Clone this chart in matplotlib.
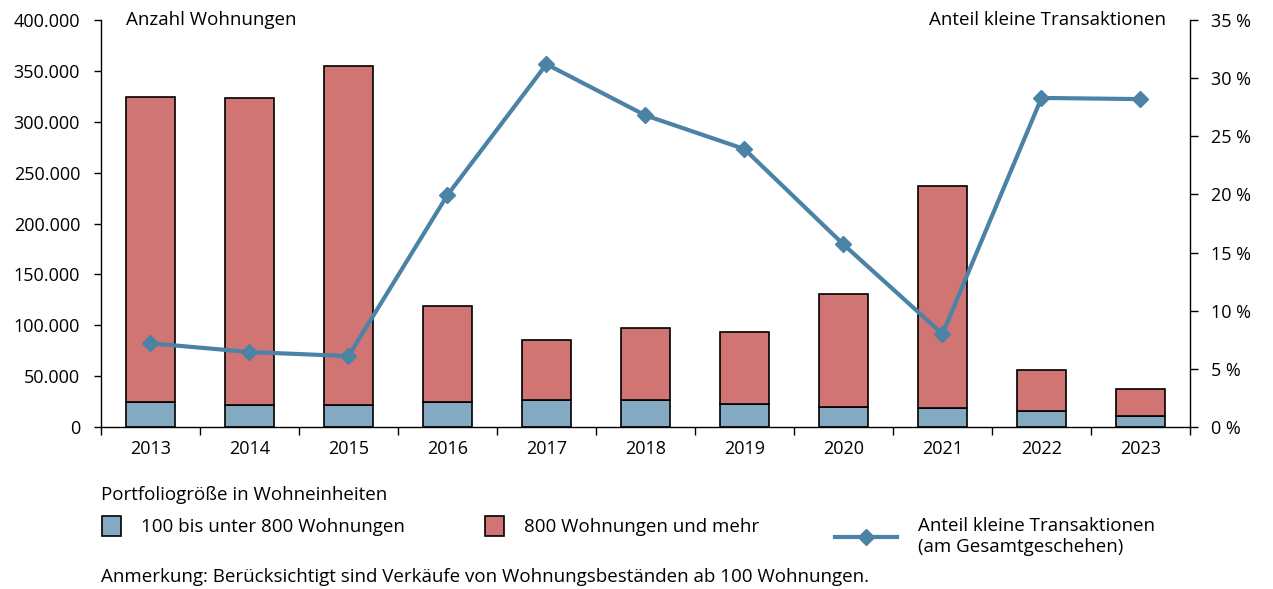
import matplotlib.pyplot as plt
from matplotlib.patches import Patch
from matplotlib.lines import Line2D
from matplotlib.ticker import FuncFormatter
import numpy as np

plt.rcParams['font.family'] = ['Open Sans', 'DejaVu Sans']
plt.rcParams['font.size'] = 13.5

years = ['2013', '2014', '2015', '2016', '2017', '2018', '2019', '2020', '2021', '2022', '2023']
small = [24600, 21600, 21600, 24600, 26800, 26800, 22900, 20000, 19000, 15700, 10800]
total = [324800, 323300, 354800, 118900, 85200, 97300, 93400, 131000, 236500, 55700, 37000]
large = [t - s for t, s in zip(total, small)]
share = [7.2, 6.45, 6.1, 19.95, 31.2, 26.8, 23.9, 15.7, 8.0, 28.3, 28.2]

blue = '#84a9c2'
red = '#d07574'
line_col = '#4a83a5'

fig = plt.figure(figsize=(12.73, 5.89), dpi=100)
ax = fig.add_axes([0.0793, 0.275, 0.8555, 0.691])
x = np.arange(len(years))

ax.bar(x, small, width=0.5, color=blue, edgecolor='black', linewidth=1.2, zorder=2)
ax.bar(x, large, bottom=small, width=0.5, color=red, edgecolor='black', linewidth=1.2, zorder=2)

ax.set_xlim(-0.5, len(years) - 0.5)
ax.set_ylim(0, 400000)
ax.set_yticks(np.arange(0, 400001, 50000))
ax.yaxis.set_major_formatter(FuncFormatter(lambda v, p: f'{int(v):,}'.replace(',', '.')))
ax.set_xticks(np.arange(-0.5, len(years), 1))
ax.set_xticklabels([])
ax.set_xticks(x, minor=True)
ax.set_xticklabels(years, minor=True)
ax.tick_params(axis='x', which='major', direction='out', length=6, width=1)
ax.tick_params(axis='x', which='minor', length=0, pad=9, labelsize=13)
ax.tick_params(axis='y', direction='out', length=5, width=1, pad=10, labelsize=13)
for s in ['top', 'right']:
    ax.spines[s].set_visible(False)
ax.spines['left'].set_linewidth(1)
ax.spines['bottom'].set_linewidth(1)

ax2 = ax.twinx()
ax2.plot(x, share, color=line_col, lw=3, marker='D', markersize=8.5, zorder=3)
ax2.set_ylim(0, 35)
ax2.set_yticks(np.arange(0, 36, 5))
ax2.yaxis.set_major_formatter(FuncFormatter(lambda v, p: f'{int(v)} %'))
ax2.tick_params(axis='y', direction='out', length=6, width=1, pad=9, labelsize=13)
for s in ['top', 'left', 'bottom']:
    ax2.spines[s].set_visible(False)
ax2.spines['right'].set_linewidth(1)

fig.text(126 / 1273, 1 - 20 / 589, 'Anzahl Wohnungen', ha='left', va='center')
fig.text(1166 / 1273, 1 - 20 / 589, 'Anteil kleine Transaktionen', ha='right', va='center')

fig.text(101 / 1273, 1 - 495 / 589, 'Portfoliogröße in Wohneinheiten', ha='left', va='center')
fig.text(101 / 1273, 1 - 577 / 589, 'Anmerkung: Berücksichtigt sind Verkäufe von Wohnungsbeständen ab 100 Wohnungen.',
         ha='left', va='center')

leg_kw = dict(frameon=False, loc='upper left', borderaxespad=0, borderpad=0, handletextpad=1.1)
l1 = fig.legend([Patch(facecolor=blue, edgecolor='black', linewidth=1.2)], ['100 bis unter 800 Wohnungen'],
                bbox_to_anchor=(102 / 1273, 1 - 516 / 589), handlelength=1.0, handleheight=1.3, **leg_kw)
l2 = fig.legend([Patch(facecolor=red, edgecolor='black', linewidth=1.2)], ['800 Wohnungen und mehr'],
                bbox_to_anchor=(485 / 1273, 1 - 516 / 589), handlelength=1.0, handleheight=1.3, **leg_kw)
l3 = fig.legend([Line2D([], [], color=line_col, lw=3, marker='D', markersize=8.5)],
                ['Anteil kleine Transaktionen\n(am Gesamtgeschehen)'],
                bbox_to_anchor=(835 / 1273, 1 - 517 / 589), handlelength=3.3, **leg_kw)

fig.savefig('out.png', dpi=100)
